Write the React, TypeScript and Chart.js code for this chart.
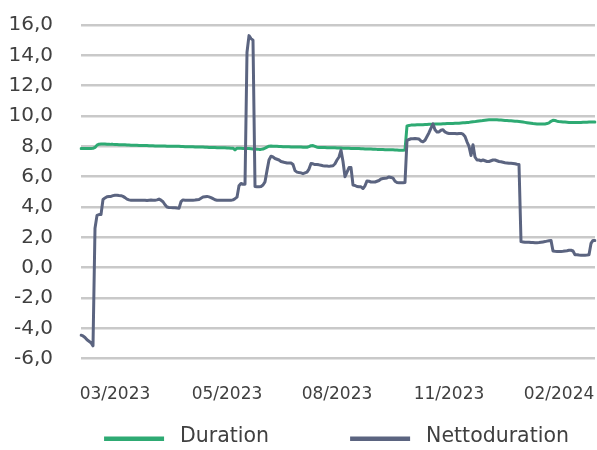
import React, { useEffect, useRef } from 'react';
import { Chart, registerables } from 'chart.js';

Chart.register(...registerables);

// Series values (roughly one point per trading day)
const duration: number[] = [
  7.85, 7.85, 7.85, 7.86, 7.86, 7.86, 7.87, 7.93, 8.08, 8.14,
  8.15, 8.16, 8.15, 8.14, 8.14, 8.13, 8.13, 8.12, 8.12, 8.11,
  8.11, 8.10, 8.10, 8.09, 8.09, 8.08, 8.08, 8.07, 8.07, 8.06,
  8.06, 8.05, 8.05, 8.05, 8.04, 8.04, 8.04, 8.03, 8.03, 8.03,
  8.02, 8.02, 8.02, 8.01, 8.01, 8.01, 8.00, 8.00, 8.00, 8.00,
  7.99, 7.99, 7.98, 7.98, 7.98, 7.97, 7.97, 7.96, 7.96, 7.96,
  7.95, 7.95, 7.94, 7.94, 7.93, 7.93, 7.92, 7.92, 7.91, 7.91,
  7.90, 7.90, 7.90, 7.89, 7.89, 7.88, 7.88, 7.76, 7.88, 7.87,
  7.87, 7.86, 7.86, 7.85, 7.85, 7.84, 7.83, 7.82, 7.81, 7.80,
  7.80, 7.82, 7.88, 7.95, 8.01, 8.02, 8.01, 8.00, 8.00, 7.99,
  7.99, 7.98, 7.98, 7.97, 7.97, 7.96, 7.96, 7.96, 7.95, 7.95,
  7.95, 7.94, 7.94, 7.94, 7.98, 8.04, 8.05, 8.00, 7.94, 7.93,
  7.93, 7.92, 7.92, 7.91, 7.91, 7.90, 7.90, 7.90, 7.89, 7.89,
  7.89, 7.88, 7.88, 7.87, 7.87, 7.86, 7.86, 7.86, 7.85, 7.85,
  7.84, 7.84, 7.83, 7.83, 7.82, 7.82, 7.81, 7.81, 7.80, 7.80,
  7.79, 7.79, 7.78, 7.78, 7.77, 7.77, 7.77, 7.76, 7.76, 7.75,
  7.75, 7.75, 7.76, 9.35, 9.38, 9.40, 9.40, 9.41, 9.42, 9.42,
  9.43, 9.43, 9.44, 9.44, 9.45, 9.45, 9.46, 9.47, 9.47, 9.48,
  9.48, 9.49, 9.49, 9.50, 9.50, 9.51, 9.51, 9.52, 9.52, 9.53,
  9.54, 9.55, 9.56, 9.57, 9.58, 9.60, 9.62, 9.63, 9.65, 9.67,
  9.68, 9.70, 9.72, 9.74, 9.75, 9.75, 9.76, 9.76, 9.75, 9.74,
  9.73, 9.72, 9.71, 9.70, 9.69, 9.68, 9.67, 9.66, 9.65, 9.64,
  9.62, 9.60, 9.58, 9.56, 9.54, 9.52, 9.50, 9.49, 9.48, 9.47,
  9.47, 9.47, 9.48, 9.50, 9.55, 9.65, 9.72, 9.70, 9.66, 9.63,
  9.62, 9.61, 9.60, 9.59, 9.58, 9.58, 9.57, 9.57, 9.58, 9.58,
  9.58, 9.59, 9.59, 9.59, 9.60, 9.60, 9.60, 9.60,
];

const nettoduration: number[] = [
  -4.45, -4.5, -4.6, -4.75, -4.85, -4.95, -5.15, 2.6, 3.45, 3.5,
  3.5, 4.5, 4.6, 4.68, 4.7, 4.7, 4.75, 4.78, 4.78, 4.76,
  4.75, 4.7, 4.62, 4.52, 4.47, 4.45, 4.45, 4.44, 4.45, 4.45,
  4.44, 4.45, 4.45, 4.43, 4.45, 4.46, 4.45, 4.45, 4.47, 4.52,
  4.45, 4.35, 4.15, 4.0, 3.97, 3.96, 3.95, 3.95, 3.93, 3.92,
  4.35, 4.47, 4.45, 4.45, 4.44, 4.45, 4.45, 4.46, 4.48, 4.5,
  4.58, 4.66, 4.68, 4.7, 4.67, 4.62, 4.55, 4.48, 4.45, 4.45,
  4.44, 4.45, 4.45, 4.44, 4.45, 4.45, 4.47, 4.55, 4.65, 5.4,
  5.55, 5.5, 5.5, 14.2, 15.3, 15.1, 15.0, 5.35, 5.33, 5.33,
  5.35, 5.45, 5.66, 6.4, 7.1, 7.35, 7.3, 7.2, 7.15, 7.1,
  7.0, 6.97, 6.93, 6.9, 6.9, 6.9, 6.8, 6.4, 6.3, 6.27,
  6.25, 6.2, 6.25, 6.3, 6.5, 6.87, 6.85, 6.8, 6.8, 6.78,
  6.75, 6.72, 6.7, 6.7, 6.68, 6.7, 6.72, 6.85, 7.1, 7.3,
  7.75, 7.0, 6.0, 6.3, 6.6, 6.6, 5.45, 5.42, 5.35, 5.33,
  5.33, 5.22, 5.4, 5.72, 5.7, 5.65, 5.65, 5.65, 5.7, 5.75,
  5.85, 5.88, 5.9, 5.92, 5.98, 5.95, 5.9, 5.7, 5.62, 5.6,
  5.6, 5.6, 5.62, 8.4, 8.45, 8.5, 8.5, 8.52, 8.5, 8.48,
  8.35, 8.3, 8.4, 8.65, 8.9, 9.2, 9.48, 9.1, 8.95, 8.95,
  9.06, 9.1, 8.95, 8.88, 8.85, 8.85, 8.85, 8.85, 8.83, 8.85,
  8.85, 8.8, 8.65, 8.3, 8.0, 7.4, 8.1, 7.3, 7.1, 7.1,
  7.05, 7.1, 7.05, 7.0, 7.0, 7.05, 7.1, 7.1, 7.05, 7.0,
  6.98, 6.95, 6.92, 6.9, 6.88, 6.88, 6.87, 6.85, 6.82, 6.8,
  1.72, 1.7, 1.68, 1.68, 1.68, 1.66, 1.66, 1.65, 1.65, 1.66,
  1.68, 1.7, 1.72, 1.75, 1.78, 1.8, 1.1, 1.08, 1.07, 1.07,
  1.07, 1.08, 1.1, 1.12, 1.15, 1.15, 1.1, 0.85, 0.85, 0.83,
  0.82, 0.82, 0.82, 0.83, 0.85, 1.6, 1.8, 1.8,
];

// X-axis tick labels and the data points they sit on
const tickLabels: string[] = ['03/2023', '05/2023', '08/2023', '11/2023', '02/2024'];
const tickIndices: number[] = [17, 73, 128, 184, 239];

const seriesNames: string[] = ['Duration', 'Nettoduration'];
const seriesColors: string[] = ['#2eaa73', '#5b6480'];

const Y_MIN = -6;
const Y_MAX = 16;
const Y_STEP = 2;

const TEXT_COLOR = '#404040';
const GRID_COLOR = '#c9c9c9';
const FONT = 'DejaVu Sans';

const legendPlugin = {
  id: 'bottomLegend',
  afterDraw(chart: any) {
    const { ctx, chartArea } = chart;
    ctx.save();
    ctx.font = `20.5px "${FONT}"`;
    ctx.textBaseline = 'alphabetic';
    ctx.textAlign = 'left';
    const lineLen = 60;
    const textGap = 16;
    const itemGap = 81;
    const items = chart.data.datasets.map((ds: any) => ({
      label: ds.label,
      color: ds.borderColor,
      w: ctx.measureText(ds.label).width,
    }));
    const total =
      items.reduce((s: number, it: any) => s + lineLen + textGap + it.w, 0) +
      itemGap * (items.length - 1);
    let x = (chartArea.left + chartArea.right) / 2 - total / 2 - 1.5;
    const y = chart.height - 11.3;
    items.forEach((it: any) => {
      ctx.strokeStyle = it.color;
      ctx.lineWidth = 4.5;
      ctx.lineCap = 'butt';
      ctx.beginPath();
      ctx.moveTo(x, y);
      ctx.lineTo(x + lineLen, y);
      ctx.stroke();
      x += lineLen + textGap;
      ctx.fillStyle = TEXT_COLOR;
      ctx.fillText(it.label, x, y + 3);
      x += it.w + itemGap;
    });
    ctx.restore();
  },
};

export default function App() {
  const canvasRef = useRef<HTMLCanvasElement | null>(null);

  useEffect(() => {
    document.body.style.margin = '0';
    const canvas = canvasRef.current;
    if (!canvas) return;
    Chart.defaults.font.family = FONT;
    const labels = duration.map((_, i) => String(i));
    const chart = new Chart(canvas, {
      type: 'line',
      data: {
        labels,
        datasets: [
          {
            label: seriesNames[0],
            data: duration,
            borderColor: seriesColors[0],
            backgroundColor: seriesColors[0],
            borderWidth: 3,
            pointRadius: 0,
            tension: 0,
            borderJoinStyle: 'round',
            borderCapStyle: 'round',
            order: 1,
          },
          {
            label: seriesNames[1],
            data: nettoduration,
            borderColor: seriesColors[1],
            backgroundColor: seriesColors[1],
            borderWidth: 3,
            pointRadius: 0,
            tension: 0,
            borderJoinStyle: 'round',
            borderCapStyle: 'round',
            order: 0,
          },
        ],
      },
      options: {
        responsive: false,
        animation: false,
        devicePixelRatio: 1,
        layout: { padding: { top: 25, right: 2, left: 0, bottom: 0 } },
        plugins: {
          legend: { display: false },
          tooltip: { enabled: false },
        },
        scales: {
          x: {
            type: 'category',
            offset: false,
            grid: { display: false, drawTicks: false },
            border: { display: false },
            ticks: {
              autoSkip: false,
              maxRotation: 0,
              minRotation: 0,
              padding: 26,
              color: TEXT_COLOR,
              font: { size: 17, family: FONT },
              callback: (_v: any, index: number) => {
                const k = tickIndices.indexOf(index);
                return k >= 0 ? tickLabels[k] : '';
              },
            },
            afterFit: (scale: any) => {
              scale.height = 91.3;
              scale.paddingLeft = 0;
              scale.paddingRight = 0;
            },
          },
          y: {
            min: Y_MIN,
            max: Y_MAX,
            grid: { display: true, color: GRID_COLOR, lineWidth: 2.5, drawTicks: false },
            border: { display: false },
            ticks: {
              stepSize: Y_STEP,
              padding: 28,
              color: TEXT_COLOR,
              font: { size: 20, family: FONT },
              callback: (v: any) => Number(v).toFixed(1).replace('.', ','),
            },
            afterFit: (scale: any) => {
              scale.width = 81;
              scale.paddingTop = 0;
              scale.paddingBottom = 0;
            },
          },
        },
      },
      plugins: [legendPlugin],
    });
    return () => chart.destroy();
  }, []);

  return (
    <canvas
      ref={canvasRef}
      width={597}
      height={450}
      style={{ display: 'block', width: 597, height: 450 }}
    />
  );
}
